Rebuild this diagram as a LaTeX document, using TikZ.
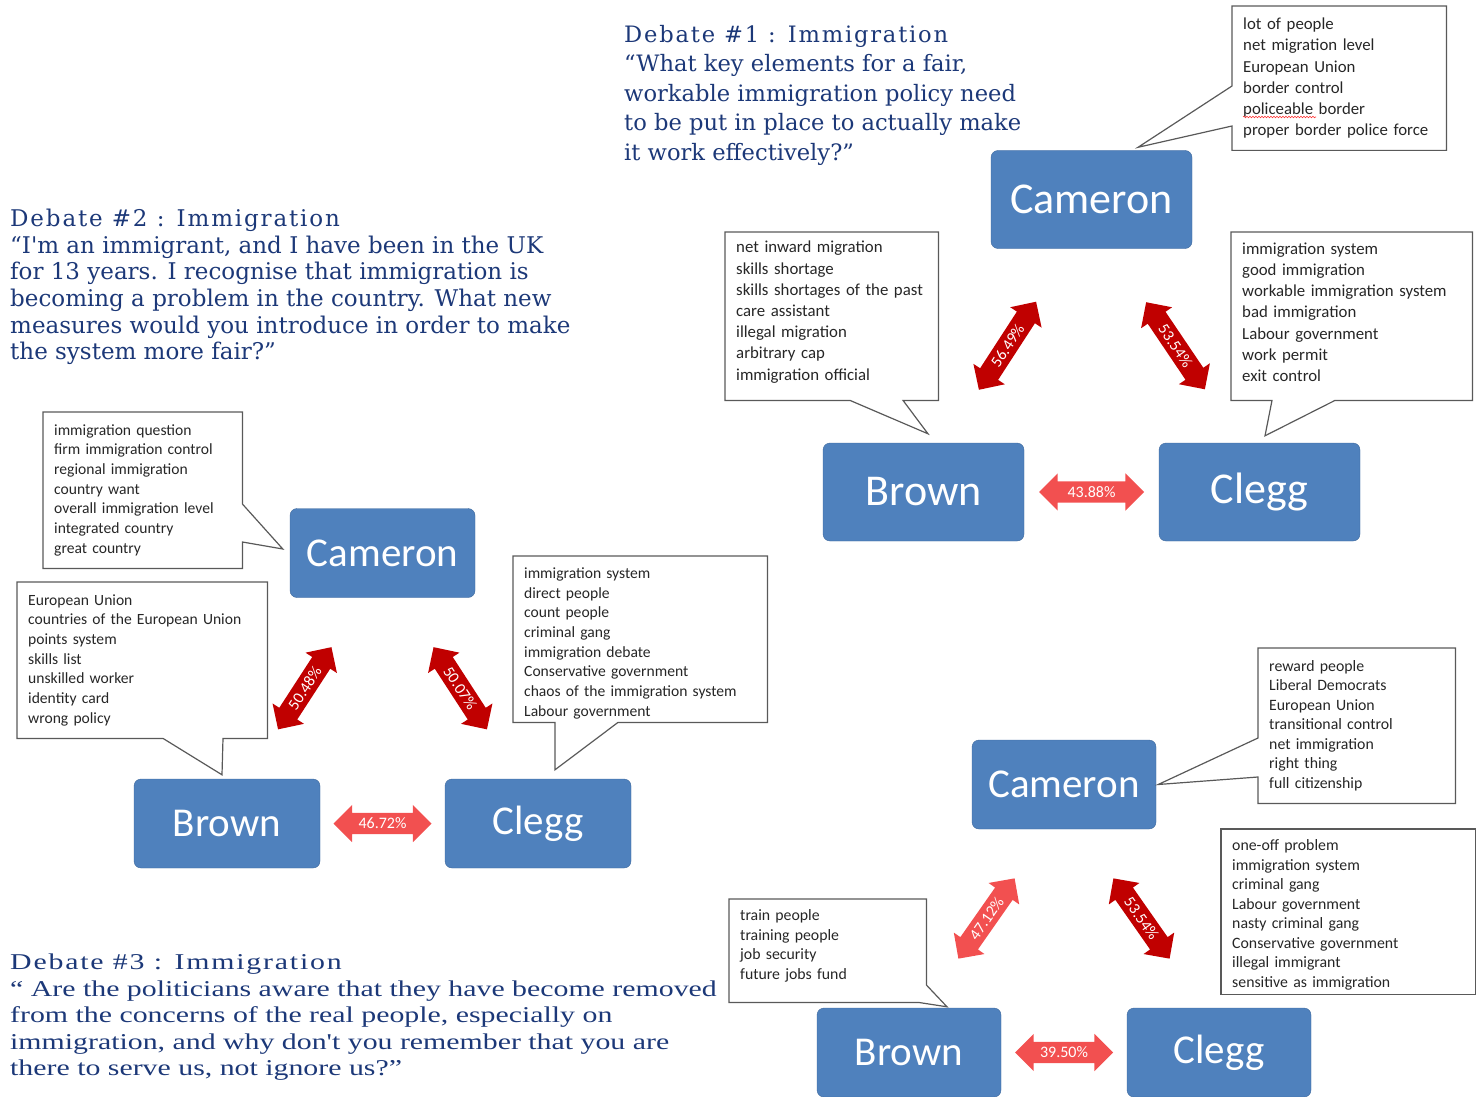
\documentclass[tikz,border=0pt]{standalone}
\usepackage{fontspec}
\setmainfont{Carlito}
\newfontfamily\debatefont{DejaVu Serif}
\newfontfamily\askfont[FakeStretch=1.32]{Liberation Serif}
\usetikzlibrary{shapes.arrows,calc,decorations.pathmorphing}

\definecolor{partyblue}{RGB}{79,129,189}
\definecolor{partyedge}{RGB}{62,104,156}
\definecolor{strongred}{RGB}{192,0,0}
\definecolor{softred}{RGB}{242,80,80}
\definecolor{askblue}{RGB}{28,56,120}
\definecolor{notegray}{RGB}{89,89,89}
\definecolor{notetext}{RGB}{38,38,38}

\newcommand\spaced[1]{{\addfontfeature{LetterSpace=8}#1}}

\begin{document}
\begin{tikzpicture}[x=1pt, y=-1pt,
  party/.style = {rectangle, rounded corners=7pt, fill=partyblue,
    draw=partyedge, text=white, inner sep=0pt},
  bigparty/.style = {party, minimum width=201pt, minimum height=98pt,
    font=\fontsize{44}{44}\selectfont},
  smallparty/.style = {party, minimum width=185pt, minimum height=89pt,
    font=\fontsize{41}{41}\selectfont},
  note/.style = {anchor=north west, align=left, inner xsep=11pt,
    text=notetext},
  noteline/.style = {draw=notegray, line width=1.2pt},
  share/.style = {double arrow, double arrow head extend=8pt,
    inner xsep=2pt, inner ysep=5pt, text=white,
    font=\fontsize{16}{16}\selectfont},
  question/.style = {anchor=north west, align=left, inner sep=0pt,
    text=askblue}]
\useasboundingbox (0,0) rectangle (1481,1097);

% debate 1
\node[question, font=\debatefont\fontsize{22.6}{29.5}\selectfont] (ask1) at (624,25)
  {\spaced{Debate \#1 : Immigration}\\
   “What key elements for a fair,\\
   workable immigration policy need\\
   to be put in place to actually make\\
   it work effectively?”};
\node[bigparty] (cam1) at (1091.5,199.5) {Cameron};
\node[bigparty] (brn1) at (923.5,492) {Brown};
\node[bigparty] (clg1) at (1259.5,492) {Clegg};
\node[share, fill=strongred, rotate=57, minimum height=105pt]
  (s1a) at ($(cam1)!0.5!(brn1)$) {56.49\%};
\node[share, fill=strongred, rotate=-56, minimum height=105pt]
  (s1b) at ($(cam1)!0.5!(clg1)$) {53.54\%};
\node[share, fill=softred, minimum height=105pt]
  (s1c) at ($(brn1)!0.5!(clg1)$) {43.88\%};

\node[note, text width=192pt, minimum height=144pt,
  font=\fontsize{16.8}{21.2}\selectfont] (n1a) at (1232,6)
  {lot of people\\net migration level\\European Union\\border control\\
   policeable border\\proper border police force};
\draw[noteline] (n1a.north west) -- (n1a.north east) -- (n1a.south east)
  -- (n1a.south west) -- ($(n1a.north west)+(0,120)$)
  -- ($(cam1.north)+(46.5,-3)$) -- ($(n1a.north west)+(0,80)$) -- cycle;
% spelling mark
\draw[red!80!white, line width=0.6pt, decorate,
  decoration={snake, amplitude=0.8pt, segment length=3pt}]
  ($(n1a.north west)+(11,111)$) -- ($(n1a.north west)+(84,111)$);

\node[note, text width=191pt, minimum height=168pt,
  font=\fontsize{16.8}{21.2}\selectfont] (n1b) at (725,232)
  {net inward migration\\skills shortage\\skills shortages of the past\\
   care assistant\\illegal migration\\arbitrary cap\\immigration official
   \par\vspace{8pt}};
\draw[noteline] (n1b.north west) -- (n1b.north east) -- (n1b.south east)
  -- ($(n1b.south west)+(178,0)$) -- ($(brn1.north)+(4.5,-9)$)
  -- ($(n1b.south west)+(125,0)$) -- (n1b.south west) -- cycle;

\node[note, text width=219pt, minimum height=168pt,
  font=\fontsize{16.8}{21.2}\selectfont] (n1c) at (1231,232)
  {immigration system\\good immigration\\workable immigration system\\
   bad immigration\\Labour government\\work permit\\exit control
   \par\vspace{8pt}};
\draw[noteline] (n1c.north west) -- (n1c.north east) -- (n1c.south east)
  -- ($(n1c.south west)+(104,0)$) -- ($(clg1.north)+(5.5,-7)$)
  -- ($(n1c.south west)+(41,0)$) -- (n1c.south west) -- cycle;

% debate 2
\node[question, font=\debatefont\fontsize{23}{26.6}\selectfont] (ask2) at (10,209)
  {\spaced{Debate \#2 : Immigration}\\
   “I'm an immigrant, and I have been in the UK\\
   for 13 years. I recognise that immigration is\\
   becoming a problem in the country. What new\\
   measures would you introduce in order to make\\
   the system more fair?”};
\node[smallparty] (cam2) at (382.5,553) {Cameron};
\node[smallparty, minimum width=186pt] (brn2) at (227,823.5) {Brown};
\node[smallparty, minimum width=186pt] (clg2) at (538,823.5) {Clegg};
\node[share, fill=strongred, rotate=57, minimum height=98pt]
  (s2a) at ($(cam2)!0.5!(brn2)$) {50.48\%};
\node[share, fill=strongred, rotate=-57, minimum height=98pt]
  (s2b) at ($(cam2)!0.5!(clg2)$) {50.07\%};
\node[share, fill=softred, minimum height=98pt]
  (s2c) at ($(brn2)!0.5!(clg2)$) {46.72\%};

\node[note, text width=177pt, minimum height=156pt,
  font=\fontsize{15.6}{19.7}\selectfont] (n2a) at (43,412)
  {immigration question\\firm immigration control\\regional immigration\\
   country want\\overall immigration level\\integrated country\\great country};
\draw[noteline] (n2a.north west) -- (n2a.north east)
  -- ($(n2a.north east)+(0,92)$) -- ($(cam2.west)+(-7,-4)$)
  -- ($(n2a.north east)+(0,130)$) -- (n2a.south east) -- (n2a.south west) -- cycle;

\node[note, text width=228pt, minimum height=156pt,
  font=\fontsize{15.6}{19.7}\selectfont] (n2b) at (17,582)
  {European Union\\countries of the European Union\\points system\\skills list\\
   unskilled worker\\identity card\\wrong policy};
\draw[noteline] (n2b.north west) -- (n2b.north east) -- (n2b.south east)
  -- ($(n2b.south west)+(206,0)$) -- ($(brn2.north)+(-5,-4)$)
  -- ($(n2b.south west)+(146,0)$) -- (n2b.south west) -- cycle;

\node[note, text width=232pt, minimum height=166pt,
  font=\fontsize{15.6}{19.7}\selectfont] (n2c) at (513,556)
  {immigration system\\direct people\\count people\\criminal gang\\
   immigration debate\\Conservative government\\chaos of the immigration system\\
   Labour government\par\vspace{-8pt}};
\draw[noteline] (n2c.north west) -- (n2c.north east) -- (n2c.south east)
  -- ($(n2c.south west)+(105,0)$) -- ($(clg2.north)+(17,-9)$)
  -- ($(n2c.south west)+(42,0)$) -- (n2c.south west) -- cycle;

% debate 3
\node[question, font=\askfont\fontsize{22.6}{26.5}\selectfont] (ask3) at (10,954)
  {\spaced{Debate \#3 : Immigration}\\
   “ Are the politicians aware that they have become removed\\
   from the concerns of the real people, especially on\\
   immigration, and why don't you remember that you are\\
   there to serve us, not ignore us?”};
\node[smallparty, minimum width=184pt] (cam3) at (1064,784.5) {Cameron};
\node[smallparty, minimum width=184pt] (brn3) at (909,1052.5) {Brown};
\node[smallparty, minimum width=184pt] (clg3) at (1219,1052.5) {Clegg};
\node[share, fill=softred, rotate=55, minimum height=98pt]
  (s3a) at ($(cam3)!0.5!(brn3)$) {47.12\%};
\node[share, fill=strongred, rotate=-55, minimum height=98pt]
  (s3b) at ($(cam3)!0.5!(clg3)$) {53.54\%};
\node[share, fill=softred, minimum height=98pt]
  (s3c) at ($(brn3)!0.5!(clg3)$) {39.50\%};

\node[note, text width=175pt, minimum height=155pt,
  font=\fontsize{15.8}{19.5}\selectfont] (n3a) at (1258,648)
  {reward people\\Liberal Democrats\\European Union\\transitional control\\
   net immigration\\right thing\\full citizenship};
\draw[noteline] (n3a.north west) -- (n3a.north east) -- (n3a.south east)
  -- (n3a.south west) -- ($(n3a.north west)+(0,129)$)
  -- ($(cam3.east)+(2,0)$) -- ($(n3a.north west)+(0,90)$) -- cycle;

\node[note, text width=232pt, minimum height=165pt,
  font=\fontsize{15.8}{19.5}\selectfont] (n3b) at (1221,829)
  {one-off problem\\immigration system\\criminal gang\\Labour government\\
   nasty criminal gang\\Conservative government\\illegal immigrant\\
   sensitive as immigration\par\vspace{-6pt}};
\draw[noteline] (n3b.north west) rectangle (n3b.south east);

\node[note, text width=175pt, minimum height=103pt,
  font=\fontsize{15.8}{19.5}\selectfont] (n3c) at (729,899)
  {train people\\training people\\job security\\future jobs fund
   \par\vspace{10pt}};
\draw[noteline] (n3c.north west) -- (n3c.north east)
  -- ($(n3c.north east)+(0,86)$) -- ($(brn3.north)+(38,-1)$)
  -- ($(n3c.south east)+(-8,0)$) -- (n3c.south west) -- cycle;
\end{tikzpicture}
\end{document}
